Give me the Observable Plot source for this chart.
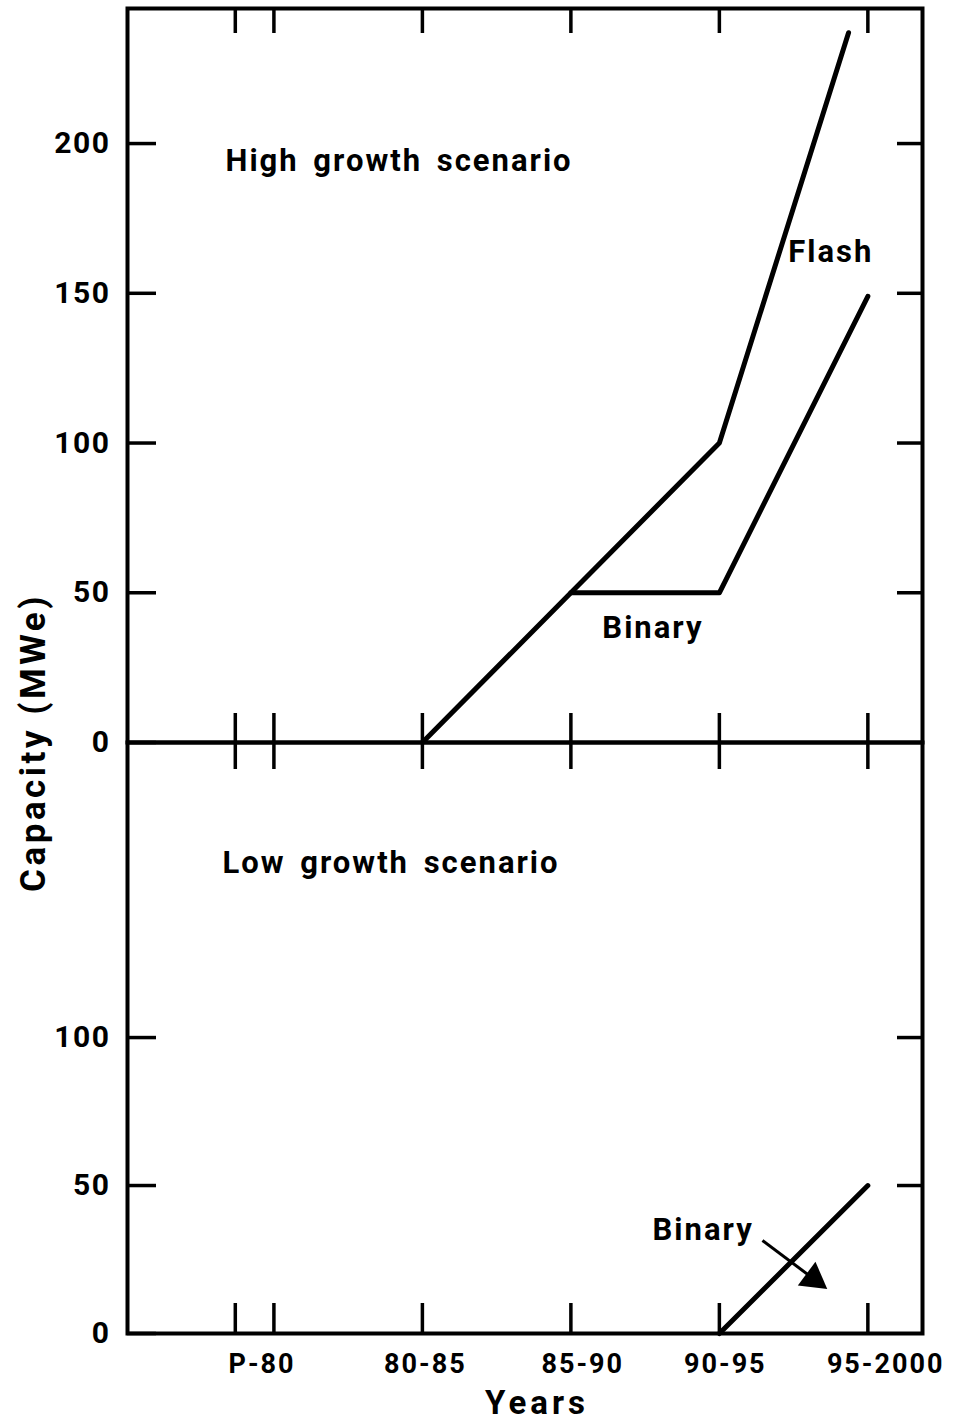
<!DOCTYPE html>
<html>
<head>
<meta charset="utf-8">
<script src="https://cdn.jsdelivr.net/npm/d3@7"></script>
<script src="https://cdn.jsdelivr.net/npm/@observablehq/plot@0.6"></script>
<style>
  html, body { margin: 0; padding: 0; background: #fff; }
  #wrap { position: relative; width: 960px; height: 1423px; background: #fff; }
  #top, #bottom { position: absolute; left: 0; }
  #top { top: 0; }
  #bottom { top: 732px; }
</style>
</head>
<body>
<div id="wrap"><div id="top"></div><div id="bottom"></div></div>
<script>
// ---- data ----
const xTicks = [1978.7, 1980, 1985, 1990, 1995, 2000];
const xLabelPos = [1979.6, 1985.1, 1990.4, 1995.2, 2000.6];
const xLabelText = ["P-80", "80-85", "85-90", "90-95", "95-2000"];
const yTicksTop = [0, 50, 100, 150, 200];
const yTicksTopRight = [50, 100, 150, 200];
const yTicksBottom = [0, 50, 100];

const flashHighYear = [1985, 1990, 1995, 1999.35];
const flashHighMW = [0, 50, 100, 237];
const binaryHighYear = [1990, 1995, 2000];
const binaryHighMW = [50, 50, 149];
const binaryLowYear = [1995, 2000];
const binaryLowMW = [0, 50];

const topLabelText = ["High growth scenario", "Flash", "Binary"];
const topLabelYear = [1978.37, 1997.32, 1991.06];
const topLabelMW = [194.3, 163.6, 38.1];
const bottomLabelText = ["Low growth scenario", "Binary"];
const bottomLabelYear = [1978.27, 1992.75];
const bottomLabelMW = [159.1, 34.8];
const arrowFrom = [1996.45, 31.4];
const arrowTo = [1998.45, 16.4];

// ---- layout ----
const W = 960, ML = 127, MR = 38;
const innerW = W - ML - MR;
const xDomain = [1975.07, 2001.84];
const font = "Roboto, 'Liberation Sans', sans-serif";

const table = (xs, ys) => xs.map((x, i) => ({x, y: ys[i]}));
const labels = (t, xs, ys) => t.map((s, i) => ({text: s, x: xs[i], y: ys[i]}));

// top panel
const topH = 782, topMT = 8, topMB = 40;
const topInnerH = topH - topMT - topMB;
const topPlot = Plot.plot({
  width: W, height: topH,
  marginLeft: ML, marginRight: MR, marginTop: topMT, marginBottom: topMB,
  style: {background: "transparent", overflow: "visible", fontFamily: font, color: "#000"},
  x: {domain: xDomain, axis: null},
  y: {domain: [0, 245.1]},
  marks: [
    Plot.axisY(yTicksTop, {tickSize: 0, tickPadding: 17, fontSize: 30, fontWeight: "bold", label: null}),
    Plot.tickY(yTicksTop, {y: d => d, insetRight: innerW - 29, strokeWidth: 3.5}),
    Plot.tickY(yTicksTopRight, {y: d => d, insetLeft: innerW - 25, strokeWidth: 3.5}),
    Plot.tickX(xTicks, {x: d => d, insetBottom: topInnerH - 25, strokeWidth: 3.5}),
    Plot.tickX(xTicks, {x: d => d, insetTop: topInnerH - 29, insetBottom: -27, strokeWidth: 3.5}),
    Plot.line(table(flashHighYear, flashHighMW), {x: "x", y: "y", strokeWidth: 5, strokeLinejoin: "round"}),
    Plot.line(table(binaryHighYear, binaryHighMW), {x: "x", y: "y", strokeWidth: 5, strokeLinejoin: "round"}),
    Plot.text(labels(topLabelText, topLabelYear, topLabelMW), {x: "x", y: "y", text: "text", textAnchor: "start", fontSize: 31, fontWeight: "bold"}),
    Plot.text(["Capacity (MWe)"], {frameAnchor: "bottom-left", textAnchor: "middle", lineAnchor: "middle", dx: -94, rotate: -90, fontSize: 35, fontWeight: "bold"}),
    Plot.frame({strokeWidth: 4})
  ]
});
document.getElementById("top").appendChild(topPlot);

// bottom panel
const botH = 691, botMT = 10, botMB = 90;
const botInnerH = botH - botMT - botMB;
const headAt = 0.86;
const bottomPlot = Plot.plot({
  width: W, height: botH,
  marginLeft: ML, marginRight: MR, marginTop: botMT, marginBottom: botMB,
  style: {background: "transparent", overflow: "visible", fontFamily: font, color: "#000"},
  x: {domain: xDomain},
  y: {domain: [0, 199.7]},
  marks: [
    Plot.axisY(yTicksBottom, {tickSize: 0, tickPadding: 17, fontSize: 30, fontWeight: "bold", label: null}),
    Plot.axisX(xLabelPos, {tickSize: 0, tickPadding: 20, fontSize: 27, fontWeight: "bold", label: null,
      tickFormat: d => xLabelText[xLabelPos.indexOf(d)]}),
    Plot.tickY(yTicksBottom, {y: d => d, insetRight: innerW - 29, strokeWidth: 3.5}),
    Plot.tickY(yTicksBottom.filter(d => d > 0), {y: d => d, insetLeft: innerW - 25, strokeWidth: 3.5}),
    Plot.tickX(xTicks, {x: d => d, insetTop: botInnerH - 30, strokeWidth: 3.5}),
    Plot.line(table(binaryLowYear, binaryLowMW), {x: "x", y: "y", strokeWidth: 5}),
    Plot.text(labels(bottomLabelText, bottomLabelYear, bottomLabelMW), {x: "x", y: "y", text: "text", textAnchor: "start", fontSize: 31, fontWeight: "bold"}),
    Plot.link([0], {x1: () => arrowFrom[0], y1: () => arrowFrom[1],
      x2: () => arrowFrom[0] + (arrowTo[0] - arrowFrom[0]) * headAt,
      y2: () => arrowFrom[1] + (arrowTo[1] - arrowFrom[1]) * headAt, strokeWidth: 3}),
    Plot.dot([0], {x: () => arrowFrom[0] + (arrowTo[0] - arrowFrom[0]) * headAt,
      y: () => arrowFrom[1] + (arrowTo[1] - arrowFrom[1]) * headAt,
      symbol: "triangle", r: 11, fill: "#000", stroke: "none", rotate: 126.5}),
    Plot.text(["Years"], {frameAnchor: "bottom", lineAnchor: "middle", dx: 12, dy: 70, fontSize: 33, fontWeight: "bold"}),
    Plot.frame({strokeWidth: 4})
  ]
});
document.getElementById("bottom").appendChild(bottomPlot);

// spacing tweaks for the hand-lettered look
const annot = new Set([...topLabelText, ...bottomLabelText]);
document.querySelectorAll("text").forEach(t => {
  const s = t.textContent;
  if (s === "Years") t.setAttribute("letter-spacing", "4");
  else if (s === "Capacity (MWe)") t.setAttribute("letter-spacing", "3.5");
  else if (annot.has(s)) { t.setAttribute("letter-spacing", "2"); t.setAttribute("word-spacing", "5"); }
  else if (xLabelText.includes(s)) t.setAttribute("letter-spacing", "2");
  else t.setAttribute("letter-spacing", "1.5");
});
</script>
</body>
</html>
